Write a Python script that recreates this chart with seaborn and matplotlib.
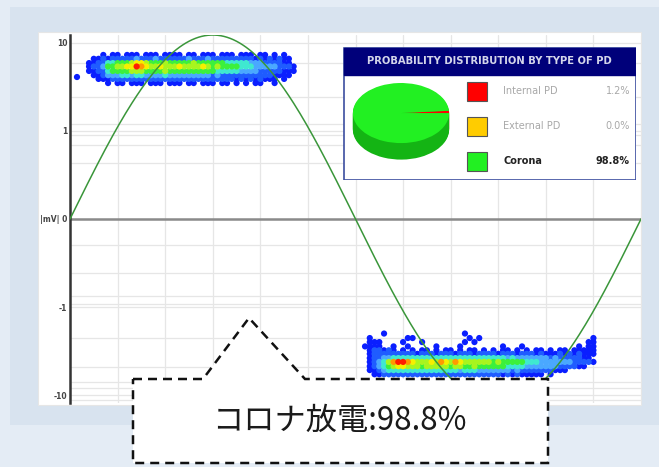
import numpy as np
import pandas as pd
import matplotlib
matplotlib.use("Agg")
import matplotlib.pyplot as plt
import seaborn as sns
from matplotlib.patches import Rectangle, Polygon
from matplotlib.ticker import FixedLocator, MultipleLocator, NullFormatter

# --- values ---
# PRPD clouds as rows of density levels (0 = empty ... 9 = densest), one char per phase bin
pos_phase = np.arange(12, 144, 3)          # deg
pos_amp = [7.3, 6.6, 5.9, 5.4, 4.8, 4.3, 3.9, 3.5]   # mV
pos_rows = [
    "00010110111011101111011011101110111011010100",
    "01121222223222322222232223222222222121212110",
    "1122445556776555655555655555544444333222211",
    "12235566779876676667666676565555444333332221",
    "11224555566655556555555555544444333322222111",
    "01123334434433334333333333232222222222211110",
    "00111222222222222222222222222221212121110100",
    "00001011011101110111011011101101010110010000",
]
neg_phase = np.arange(186, 336, 3)
neg_amp = [-2.0, -2.25, -2.5, -2.8, -3.1, -3.4, -3.8, -4.2, -4.7, -5.2, -5.8]
neg_rows = [
    "00001000000000000000010000000000000000000000000000",
    "01000000011000000000001010000000000000000000000010",
    "01110000100010000000010100000000000000000000000110",
    "11110010010000010000100000000100010000000000010110",
    "01221210101011010110101101010110101011010110111110",
    "01222222222122212221222122221222122212111212121110",
    "01223344444444444444444444444434333333323222221100",
    "01234689987666768768766666656555554443333333222210",
    "01234567766656666656655655555544443333333222211000",
    "01123444444444444444344433333332322222221110000000",
    "00112222222222222222222222222121211111010000000000",
]
stray_phase = [4.4]
stray_amp = [4.1]

level_colors = {1: "#0a1eff", 2: "#1f5cff", 3: "#4aa8ff", 4: "#3fe8d0", 5: "#3cf03c",
                6: "#a8f51e", 7: "#f5f000", 8: "#ff9a00", 9: "#ff1e00"}

pd_types = ["Internal PD", "External PD", "Corona"]
pd_share = [1.2, 0.0, 98.8]
pd_colors = ["#ff0000", "#ffcc00", "#22f022"]
pd_side = ["#b00000", "#c09000", "#14b414"]

y_ticks = [-10, -1, 0, 1, 10]
y_ticklabels = ["-10", "-1", "|mV| 0", "1", "10"]
y_minor = [5.9, 2.4, 1.2, 0.95, 0.84, 0.64, -0.3, -0.61, -0.88, -0.96,
           -2.25, -4.8, -7.1, -8.3, -11.4]

callout = "コロナ放電:98.8%"


def grid_to_df(phases, amps, rows):
    recs = []
    for amp, row in zip(amps, rows):
        row = row.ljust(len(phases), "0")[:len(phases)]
        for ph, c in zip(phases, row):
            if c != "0":
                recs.append((ph, amp, int(c)))
    return pd.DataFrame(recs, columns=["phase", "amp", "level"])


cloud = pd.concat([
    grid_to_df(pos_phase, pos_amp, pos_rows),
    grid_to_df(neg_phase, neg_amp, neg_rows),
    pd.DataFrame({"phase": stray_phase, "amp": stray_amp, "level": [1]}),
], ignore_index=True).sort_values("level", kind="stable")

sns.set_style("white")
plt.rcParams["font.family"] = ["DejaVu Sans"]

W, H = 659, 467
fig = plt.figure(figsize=(W / 100, H / 100), dpi=100, facecolor="#e4ecf5")

# background panels (pixel coords)
bg = fig.add_axes([0, 0, 1, 1], zorder=0)
bg.set_xlim(0, W)
bg.set_ylim(H, 0)
bg.axis("off")
bg.add_patch(Rectangle((10, 7), 649, 418, color="#d8e3ef", lw=0))
bg.add_patch(Rectangle((38, 32), 603, 373, facecolor="white", edgecolor="#e6e6e6", lw=0.8))

# main PRPD chart
ax = fig.add_axes([70 / W, 1 - 403 / H, 571 / W, 368 / H], zorder=1)
ax.set_facecolor("white")
sns.scatterplot(data=cloud, x="phase", y="amp", hue="level", palette=level_colors,
                s=20, linewidth=0, legend=False, ax=ax)
ax.set_yscale("symlog", linthresh=1, linscale=0.9)
ax.set_xlim(0, 360)
ax.set_ylim(-12.3, 12.3)
ax.xaxis.set_major_locator(MultipleLocator(30))
ax.xaxis.set_major_formatter(NullFormatter())
ax.yaxis.set_major_locator(FixedLocator(y_ticks))
ax.yaxis.set_minor_locator(FixedLocator(y_minor))
ax.yaxis.set_minor_formatter(NullFormatter())
ax.set_yticklabels(y_ticklabels, fontsize=5.5, fontweight="bold", color="#444444")
ax.tick_params(axis="both", which="both", length=0, pad=2)
ax.grid(which="both", color="#e6e6e6", lw=0.9)
ax.axhline(0, color="#8a8a8a", lw=1.8, zorder=1)
ax.set_xlabel("")
ax.set_ylabel("")
for side in ["top", "right", "bottom"]:
    ax.spines[side].set_visible(False)
ax.spines["left"].set_color("#333333")
ax.spines["left"].set_linewidth(1.8)

# reference sine on a linear twin
phase_line = np.linspace(0, 360, 361)
ax2 = ax.twinx()
sns.lineplot(x=phase_line, y=np.sin(np.radians(phase_line)), ax=ax2,
             color="#3a963a", lw=1.1)
ax2.set_ylim(-1, 1)
ax2.axis("off")

# probability box
box = fig.add_axes([343 / W, 1 - 180 / H, 293 / W, 133 / H], zorder=3)
box.set_xlim(0, 293)
box.set_ylim(133, 0)
box.axis("off")
box.add_patch(Rectangle((0.5, 0.5), 292, 132, facecolor="white", edgecolor="#3c4ea0", lw=1.2))
box.add_patch(Rectangle((0.5, 0.5), 292, 27, facecolor="#00007a", edgecolor="#00007a", lw=1))
box.text(146, 14, "PROBABILITY DISTRIBUTION BY TYPE OF PD", ha="center", va="center",
         fontsize=7.2, fontweight="bold", color="#d4d6ea")
for i, (name, val, col) in enumerate(zip(pd_types, pd_share, pd_colors)):
    yc = 44 + 35 * i
    box.add_patch(Rectangle((124, yc - 9.5), 20, 19, facecolor=col, edgecolor="#555555", lw=0.8))
    bold = name == "Corona"
    tcol = "#222222" if bold else "#a8a8a8"
    box.text(160, yc, name, ha="left", va="center", fontsize=7,
             color=tcol, fontweight="bold" if bold else "normal")
    box.text(287, yc, f"{val:.1f}%", ha="right", va="center", fontsize=7,
             color=tcol, fontweight="bold" if bold else "normal")

# 3D-ish pie
pie_ax = fig.add_axes([350 / W, 1 - 162 / H, 102 / W, 82 / H], zorder=4)
for d in np.linspace(0.55, 0.03, 18):
    pie_ax.pie(pd_share, colors=pd_side, startangle=0, center=(0, -d),
               wedgeprops=dict(linewidth=0))
pie_ax.pie(pd_share, colors=pd_colors, startangle=0, wedgeprops=dict(linewidth=0))
pie_ax.set_aspect("auto")
pie_ax.set_xlim(-1.06, 1.06)
pie_ax.set_ylim(-1.63, 1.1)
pie_ax.axis("off")

# dashed callout
ov = fig.add_axes([0, 0, 1, 1], zorder=5)
ov.set_xlim(0, W)
ov.set_ylim(H, 0)
ov.axis("off")
ov.patch.set_alpha(0)
pts = [(133, 379), (203, 379), (249, 318), (305, 379), (548, 379), (548, 463), (133, 463)]
ov.add_patch(Polygon(pts, closed=True, facecolor="white", edgecolor="#111111",
                     lw=1.8, linestyle=(0, (3.6, 2.4))))
ov.text(339, 421, callout, ha="center", va="center", fontsize=22.5, color="#1a1a1a",
        family=["Noto Sans CJK JP", "DejaVu Sans"])

fig.savefig("out.png", dpi=100, facecolor=fig.get_facecolor())
